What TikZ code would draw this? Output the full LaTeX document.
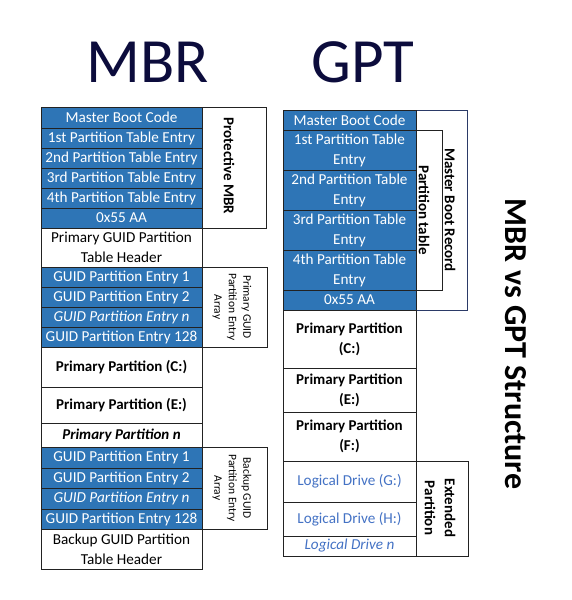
\documentclass[tikz,border=0pt]{standalone}
\usepackage{fontspec}
\setmainfont{Carlito}
\definecolor{cellblue}{HTML}{2E75B6}
\definecolor{titlenavy}{HTML}{0C0C3C}
\definecolor{logblue}{HTML}{4472C4}
\definecolor{boxnavy}{HTML}{2B3A67}
\definecolor{lineclr}{HTML}{222222}
\tikzset{
  cell/.style={draw=lineclr, line width=0.8pt, inner sep=0pt, outer sep=0pt, anchor=north west,
    align=center, font=\fontsize{15.2}{20}\selectfont},
  bluecell/.style={cell, fill=cellblue, text=white},
  sidebox/.style={draw=lineclr, line width=0.8pt, inner sep=0pt, outer sep=0pt, anchor=north west, fill=white},
  vlabel/.style={rotate=-90, align=center, inner sep=0pt, font=\fontsize{15}{17}\selectfont\bfseries},
  smalllabel/.style={rotate=-90, align=center, inner sep=0pt, font=\fontsize{11.5}{14.5}\selectfont},
  title/.style={inner sep=0pt, anchor=base, text=titlenavy, font=\fontsize{63}{70}\selectfont}
}
\begin{document}
\begin{tikzpicture}[x=1pt,y=-1pt]
\useasboundingbox (0,0) rectangle (572,600);
% titles
\node[title] (tmbr) at (148,82) {MBR};
\node[title] (tgpt) at (363,82) {GPT};
\node[rotate=-90, inner sep=0pt, font=\fontsize{32}{36}\selectfont\bfseries] (tvs) at (516,344) {MBR vs GPT Structure};

% ===== MBR / left column =====
\node[sidebox, minimum width=64, minimum height=121] (pmbr) at (202,107) {};
\node[vlabel] (pmbrl) at (229,166) {Protective MBR};
\node[sidebox, minimum width=65, minimum height=80] (pga) at (202,267) {};
\node[smalllabel] (pgal) at (232,307) {Primary GUID\\Partition Entry\\Array};
\node[sidebox, minimum width=65, minimum height=82] (bga) at (202,447) {};
\node[smalllabel] (bgal) at (232,488) {Backup GUID\\Partition Entry\\Array};

\node[bluecell, minimum width=161, minimum height=21] (m0) at (41,107) {Master Boot Code};
\node[bluecell, minimum width=161, minimum height=20] (m1) at (41,128) {1st Partition Table Entry};
\node[bluecell, minimum width=161, minimum height=20] (m2) at (41,148) {2nd Partition Table Entry};
\node[bluecell, minimum width=161, minimum height=20] (m3) at (41,168) {3rd Partition Table Entry};
\node[bluecell, minimum width=161, minimum height=20] (m4) at (41,188) {4th Partition Table Entry};
\node[bluecell, minimum width=161, minimum height=20] (m5) at (41,208) {0x55 AA};
\node[cell, minimum width=161, minimum height=39] (hdr) at (41,228) {Primary GUID Partition\\Table Header};
\node[bluecell, minimum width=161, minimum height=20] (g1) at (41,267) {GUID Partition Entry 1};
\node[bluecell, minimum width=161, minimum height=20] (g2) at (41,287) {GUID Partition Entry 2};
\node[bluecell, minimum width=161, minimum height=20] (g3) at (41,307) {\itshape GUID Partition Entry n};
\node[bluecell, minimum width=161, minimum height=20] (g4) at (41,327) {GUID Partition Entry 128};
\node[cell, minimum width=161, minimum height=40, font=\fontsize{15}{20}\selectfont\bfseries] (pc) at (41,347) {Primary Partition (C:)};
\node[cell, minimum width=161, minimum height=36, font=\fontsize{15}{20}\selectfont\bfseries] (pe) at (41,387) {Primary Partition (E:)};
\node[cell, minimum width=161, minimum height=24, font=\fontsize{15}{20}\selectfont\bfseries\itshape] (pn) at (41,423) {Primary Partition n};
\node[bluecell, minimum width=161, minimum height=21] (b1) at (41,447) {GUID Partition Entry 1};
\node[bluecell, minimum width=161, minimum height=20] (b2) at (41,468) {GUID Partition Entry 2};
\node[bluecell, minimum width=161, minimum height=21] (b3) at (41,488) {\itshape GUID Partition Entry n};
\node[bluecell, minimum width=161, minimum height=20] (b4) at (41,509) {GUID Partition Entry 128};
\node[cell, minimum width=161, minimum height=40] (bh) at (41,529) {Backup GUID Partition\\Table Header};

% ===== GPT / right column =====
\node[sidebox, draw=boxnavy, minimum width=51, minimum height=200] (mbrbox) at (416,110) {};
\node[vlabel] (mbrl) at (450,210) {Master Boot Record};
\node[sidebox, minimum width=26, minimum height=160] (ptbox) at (416,130) {};
\node[vlabel] (ptl) at (424,210) {Partition table};
\node[sidebox, minimum width=52, minimum height=95] (extbox) at (416,461) {};
\node[vlabel, font=\fontsize{15}{20}\selectfont\bfseries] (extl) at (440,508) {Extended\\Partition};

\node[bluecell, minimum width=133, minimum height=20] (r0) at (283,110) {Master Boot Code};
\node[bluecell, minimum width=133, minimum height=40] (r1) at (283,130) {1st Partition Table\\Entry};
\node[bluecell, minimum width=133, minimum height=40] (r2) at (283,170) {2nd Partition Table\\Entry};
\node[bluecell, minimum width=133, minimum height=40] (r3) at (283,210) {3rd Partition Table\\Entry};
\node[bluecell, minimum width=133, minimum height=40] (r4) at (283,250) {4th Partition Table\\Entry};
\node[bluecell, minimum width=133, minimum height=20] (r5) at (283,290) {0x55 AA};
\node[cell, minimum width=133, minimum height=58, font=\fontsize{15}{20}\selectfont\bfseries] (rc) at (283,310) {Primary Partition\\(C:)};
\node[cell, minimum width=133, minimum height=44, font=\fontsize{15}{20}\selectfont\bfseries] (re) at (283,368) {Primary Partition\\(E:)};
\node[cell, minimum width=133, minimum height=49, font=\fontsize{15}{20}\selectfont\bfseries] (rf) at (283,412) {Primary Partition\\(F:)};
\node[cell, minimum width=133, minimum height=41, text=logblue] (lg) at (283,461) {Logical Drive (G:)};
\node[cell, minimum width=133, minimum height=34, text=logblue] (lh) at (283,502) {Logical Drive (H:)};
\node[cell, minimum width=133, minimum height=20, text=logblue, font=\fontsize{15.2}{20}\selectfont\itshape] (ln) at (283,536) {Logical Drive n};
\end{tikzpicture}
\end{document}
